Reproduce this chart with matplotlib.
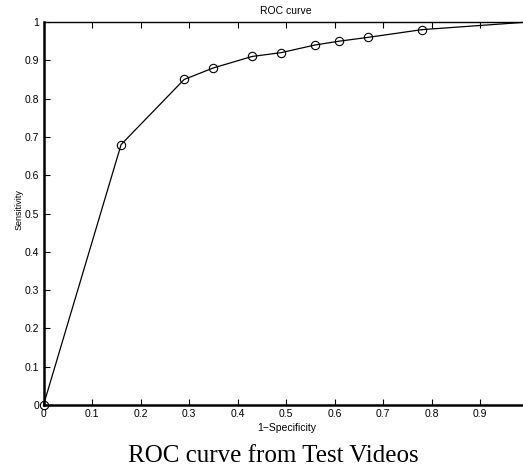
import matplotlib.pyplot as plt

# ROC points
fpr = [0.0, 0.16, 0.29, 0.35, 0.43, 0.49, 0.56, 0.61, 0.67, 0.78, 1.0]
tpr = [0.0, 0.68, 0.85, 0.88, 0.91, 0.92, 0.94, 0.95, 0.96, 0.98, 1.0]

x_ticks = [0, 0.1, 0.2, 0.3, 0.4, 0.5, 0.6, 0.7, 0.8, 0.9]
y_ticks = [0, 0.1, 0.2, 0.3, 0.4, 0.5, 0.6, 0.7, 0.8, 0.9, 1]

W, H = 523, 470
fig = plt.figure(figsize=(W / 100, H / 100), dpi=100)

# axes in pixels: left 43.5, right 528 (clipped by figure), top 22, bottom 405
left, right, top, bottom = 43.5, 528.5, 22, 405
ax = fig.add_axes([left / W, 1 - bottom / H, (right - left) / W, (bottom - top) / H])

ax.plot(fpr[:-1], tpr[:-1], color="black", lw=0.9, marker="o", ms=6,
        mfc="none", mec="black", mew=0.8, clip_on=False, zorder=3)
ax.plot(fpr[-2:], tpr[-2:], color="black", lw=0.9, clip_on=False)

ax.set_xlim(0, 1)
ax.set_ylim(0, 1)
ax.set_xticks(x_ticks)
ax.set_xticklabels(["0", "0.1", "0.2", "0.3", "0.4", "0.5", "0.6", "0.7", "0.8", "0.9"])
ax.set_yticks(y_ticks)
ax.set_yticklabels(["0", "0.1", "0.2", "0.3", "0.4", "0.5", "0.6", "0.7", "0.8", "0.9", "1"])

font = "Liberation Sans"
ax.tick_params(direction="in", length=4, width=0.8, top=True, right=False,
               labelsize=7.5, pad=3)
for lab in ax.get_xticklabels() + ax.get_yticklabels():
    lab.set_family(font)

ax.spines["left"].set_linewidth(1.8)
ax.spines["bottom"].set_linewidth(1.8)
ax.spines["top"].set_linewidth(1.0)
ax.spines["right"].set_visible(False)

ax.set_title("ROC curve", fontsize=7.5, family=font, pad=5.5)
ax.set_xlabel("1\u2212Specificity", fontsize=7.5, family=font)
ax.set_ylabel("Sensitivity", fontsize=6.5, family=font)
ax.xaxis.set_label_coords(0.501, -0.047)
ax.yaxis.set_label_coords(-0.042, 0.51)

fig.text(273.5 / W, 1 - 456 / H, "ROC curve from Test Videos", fontsize=18,
         family="Liberation Serif", ha="center", va="center")

fig.savefig("out.png", dpi=100)
